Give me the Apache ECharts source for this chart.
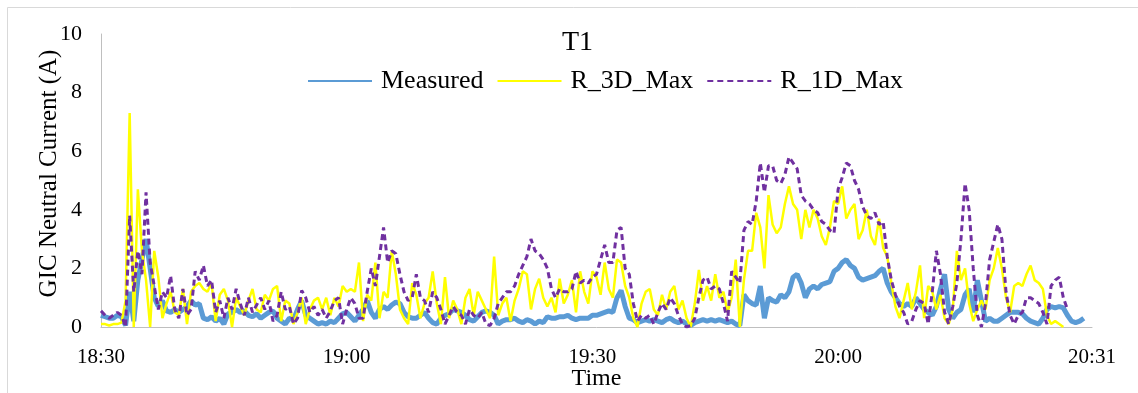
<!DOCTYPE html>
<html>
<head>
<meta charset="utf-8">
<script src="https://cdn.jsdelivr.net/npm/echarts@6/dist/echarts.min.js"></script>
<style>
  html, body { margin: 0; padding: 0; background: #ffffff; }
  #chart { width: 1138px; height: 393px; }
</style>
</head>
<body>
<div id="chart"></div>
<script>
// ---- data (sampled every 0.5 min starting 18:30) ----
const STEP_MIN = 0.5;
const xTickMinutes = [0, 30, 60, 90, 121];
const xTickLabels = ['18:30', '19:00', '19:30', '20:00', '20:31'];
const seriesNames = ['Measured', 'R_3D_Max', 'R_1D_Max'];

const measured = [
  0.40,0.35,0.30,0.30,0.40,0.35,0.05,1.20,0.20,1.60, // 0-4.5
  2.30,3.00,2.00,1.00,0.70,0.90,0.55,0.50,0.60,0.50, // 5
  0.60,0.70,0.90,0.75,0.80,0.30,0.25,0.35,0.20,0.30, // 10
  0.10,0.45,0.50,0.60,0.50,0.55,0.40,0.35,0.45,0.30, // 15
  0.40,0.50,0.55,0.30,0.20,0.10,0.30,0.25,0.60,0.90, // 20
  0.40,0.30,0.20,0.10,0.15,0.10,0.20,0.15,0.30,0.45, // 25
  0.50,0.35,0.20,0.40,0.60,0.90,0.50,0.30,0.60,0.70, // 30
  0.60,0.75,0.85,0.80,0.50,0.35,0.30,0.30,0.40,0.50, // 35
  0.30,0.15,0.10,0.30,0.40,0.45,0.60,0.55,0.50,0.40, // 40
  0.25,0.20,0.35,0.50,0.55,0.50,0.40,0.10,0.20,0.25, // 45
  0.25,0.30,0.20,0.15,0.25,0.20,0.10,0.20,0.15,0.35, // 50
  0.30,0.30,0.35,0.35,0.40,0.30,0.25,0.30,0.30,0.30, // 55
  0.40,0.40,0.45,0.50,0.55,0.50,1.00,1.25,0.70,0.30, // 60
  0.25,0.15,0.20,0.25,0.20,0.25,0.20,0.15,0.25,0.30, // 65
  0.20,0.15,0.20,0.10,0.05,0.15,0.20,0.25,0.20,0.25, // 70
  0.20,0.25,0.20,0.15,0.20,0.10,0.05,1.10,0.90,0.80, // 75
  0.75,1.40,0.30,1.00,0.90,0.85,1.10,1.00,1.20,1.70, // 80
  1.80,1.50,1.00,1.30,1.40,1.30,1.45,1.50,1.55,1.90, // 85
  2.00,2.20,2.30,2.10,2.00,1.70,1.60,1.65,1.70,1.75, // 90
  1.90,2.00,1.50,1.20,1.00,0.80,0.70,0.80,0.70,1.00, // 95
  0.80,0.60,0.50,0.40,0.70,1.30,1.80,0.60,0.30,0.50, // 100
  0.60,1.10,1.30,0.50,1.60,0.90,0.20,0.30,0.20,0.20, // 105
  0.30,0.40,0.50,0.50,0.50,0.45,0.30,0.20,0.15,0.10, // 110
  0.30,0.60,0.70,0.65,0.70,0.65,0.40,0.20,0.15,0.20, // 115
  0.30                                                // 120
];

const r3dMax = [
  0.10,0.10,0.05,0.10,0.10,0.15,0.90,7.30,0.00,4.70, // 0
  2.60,1.60,0.00,2.60,1.70,0.30,0.80,1.20,0.50,0.40, // 5
  1.30,0.10,1.20,1.40,1.50,1.30,1.20,1.50,0.20,1.10, // 10
  1.30,0.90,0.00,1.00,0.70,0.40,0.90,1.30,0.60,0.50, // 15
  1.10,0.90,1.30,1.40,0.20,0.90,0.80,0.10,0.50,1.00, // 20
  0.10,0.60,0.90,1.00,0.60,1.00,0.40,1.00,0.70,1.40, // 25
  1.20,1.30,1.20,2.20,0.20,1.10,0.90,2.20,0.30,1.20, // 30
  1.00,2.60,1.80,0.60,0.30,0.10,1.50,1.10,0.30,0.80, // 35
  1.00,1.90,0.80,0.10,1.70,0.30,0.90,0.60,0.10,1.00, // 40
  1.30,0.40,1.20,0.90,0.60,0.30,2.40,0.40,0.80,1.00, // 45
  0.20,0.90,1.30,1.90,1.80,0.60,1.30,1.65,1.00,0.70, // 50
  1.00,0.50,1.65,0.80,1.10,1.60,0.50,1.90,1.20,0.80, // 55
  1.90,1.70,1.10,2.20,1.30,1.00,2.30,2.20,1.40,1.00, // 60
  0.30,0.00,0.80,1.20,1.30,0.60,0.40,1.10,0.60,1.20, // 65
  1.40,0.60,0.90,0.30,0.00,0.80,1.95,0.90,1.40,0.90, // 70
  1.80,1.00,1.20,0.50,1.00,2.30,0.00,1.60,2.60,2.60, // 75
  3.90,3.40,2.00,4.50,3.50,3.20,3.40,4.20,4.80,4.20, // 80
  4.00,3.00,4.00,3.40,4.00,3.70,3.10,2.80,3.40,4.30, // 85
  4.20,4.80,3.70,4.00,4.20,3.00,3.30,4.00,3.10,2.80, // 90
  3.70,2.70,2.40,1.50,0.70,0.30,0.90,1.50,0.60,1.20, // 95
  2.10,0.30,1.40,1.20,0.60,1.10,0.30,0.10,0.60,2.60, // 100
  1.60,2.00,0.80,0.20,0.60,0.90,0.60,1.60,2.00,2.70, // 105
  2.00,1.00,0.50,1.40,1.50,1.40,1.80,2.10,1.60,1.50, // 110
  1.30,0.40,0.10,0.20,0.10,0.00                      // 115-117.5
];

const r1dMax = [
  0.55,0.40,0.30,0.40,0.50,0.40,0.00,3.80,1.20,2.60, // 0
  1.80,4.60,2.20,1.40,0.60,1.20,1.00,1.75,0.60,0.30, // 5
  1.30,0.40,0.60,1.90,1.60,2.10,1.40,1.60,0.50,0.90, // 10
  0.30,1.00,0.60,1.30,0.80,0.40,1.00,0.50,0.75,1.00, // 15
  0.60,0.90,0.20,0.40,1.20,0.60,0.70,0.10,0.30,1.25, // 20
  1.00,0.50,0.70,0.40,0.60,0.30,0.55,0.90,1.00,0.10, // 25
  0.60,1.00,0.80,0.30,0.30,1.20,2.00,1.40,2.40,3.40, // 30
  2.20,2.60,2.50,1.80,1.20,0.90,1.00,1.80,1.00,0.90, // 35
  0.50,1.20,1.00,0.60,0.10,0.40,0.70,0.50,0.40,0.10, // 40
  0.60,0.40,0.30,0.50,0.10,0.05,0.30,0.80,1.00,1.20, // 45
  1.20,1.40,1.80,2.10,2.40,3.00,2.60,2.50,2.30,2.00, // 50
  1.30,1.00,1.30,1.20,1.20,1.30,1.90,1.50,1.60,1.50, // 55
  1.70,1.80,2.30,2.80,2.20,2.20,3.30,3.40,2.00,1.80, // 60
  0.80,0.20,0.40,0.30,0.40,0.10,0.50,0.80,0.60,1.00, // 65
  0.80,0.40,0.10,0.00,0.05,0.30,1.00,1.60,1.70,1.30, // 70
  1.40,1.30,0.80,0.20,1.90,1.70,1.50,3.30,3.60,3.50, // 75
  4.30,5.60,4.60,5.50,5.50,5.00,4.90,5.20,5.80,5.60, // 80
  5.40,4.50,4.30,4.20,4.00,3.90,3.60,3.50,3.30,3.20, // 85
  4.70,5.10,5.60,5.50,5.00,4.70,4.10,3.80,3.70,3.90, // 90
  3.50,3.60,2.40,1.60,1.10,0.70,0.50,0.10,0.20,0.60, // 95
  0.90,0.80,0.10,1.20,2.60,1.80,0.50,0.10,0.70,1.50, // 100
  3.00,4.90,4.00,2.00,0.40,0.00,0.80,2.30,2.90,3.50, // 105
  3.00,1.20,0.40,0.10,0.40,0.50,1.00,1.00,0.90,0.80, // 110
  0.50,0.10,1.40,1.60,1.70,1.00,0.60                 // 115-118
];

// ---- chart ----
const FONT = "'Liberation Serif','Times New Roman',serif";
const toPairs = arr => arr.map((v, i) => [i * STEP_MIN, v]);

const chart = echarts.init(document.getElementById('chart'), null, { renderer: 'canvas' });
chart.setOption({
  animation: false,
  backgroundColor: '#ffffff',
  textStyle: { fontFamily: FONT, color: '#000' },
  graphic: [{
    type: 'rect', silent: true, z: -10,
    shape: { x: 7.5, y: 7.5, width: 1200, height: 500 },
    style: { fill: 'none', stroke: '#d9d9d9', lineWidth: 1 }
  }],
  title: {
    text: 'T1', left: 562, top: 29, padding: 0,
    textStyle: { fontFamily: FONT, fontSize: 28, fontWeight: 'normal', color: '#000' }
  },
  legend: {
    left: 307, top: 68, padding: 0,
    itemWidth: 64, itemHeight: 14, itemGap: 13,
    itemStyle: { opacity: 0 },
    data: seriesNames,
    textStyle: { fontFamily: FONT, fontSize: 26, color: '#000', padding: [0, 0, 0, 4] }
  },
  grid: { left: 101, right: 46, top: 34, bottom: 66, containLabel: false, outerBoundsMode: 'none' },
  xAxis: {
    type: 'value', min: 0, max: 121,
    axisLine: { show: true, lineStyle: { color: '#bfbfbf', width: 1 } },
    axisTick: { show: false },
    splitLine: { show: false },
    axisLabel: {
      customValues: xTickMinutes,
      formatter: v => { const k = xTickMinutes.indexOf(v); return k >= 0 ? xTickLabels[k] : ''; },
      fontFamily: FONT, fontSize: 21, color: '#000', margin: 20
    },
    name: 'Time', nameLocation: 'middle', nameGap: 40, nameMoveOverlap: false,
    nameTextStyle: { fontFamily: FONT, fontSize: 24, color: '#000' }
  },
  yAxis: {
    type: 'value', min: 0, max: 10, interval: 2,
    axisLine: { show: true, lineStyle: { color: '#bfbfbf', width: 1 } },
    axisTick: { show: false },
    splitLine: { show: false },
    axisLabel: { fontFamily: FONT, fontSize: 22, color: '#000', margin: 19 },
    name: 'GIC Neutral Current (A)', nameLocation: 'middle', nameGap: 39, nameMoveOverlap: false,
    nameTextStyle: { fontFamily: FONT, fontSize: 25, color: '#000', padding: [0, 0, 0, 14] }
  },
  series: [
    {
      name: seriesNames[0], type: 'line', data: toPairs(measured),
      symbol: 'none', showSymbol: false, z: 2,
      lineStyle: { color: '#5B9BD5', width: 5 }, itemStyle: { color: '#5B9BD5' }
    },
    {
      name: seriesNames[1], type: 'line', data: toPairs(r3dMax),
      symbol: 'none', showSymbol: false, z: 3,
      lineStyle: { color: '#FFFF00', width: 2.5 }, itemStyle: { color: '#FFFF00' }
    },
    {
      name: seriesNames[2], type: 'line', data: toPairs(r1dMax),
      symbol: 'none', showSymbol: false, z: 4,
      lineStyle: { color: '#7030A0', width: 3, type: [6, 4] }, itemStyle: { color: '#7030A0' }
    }
  ]
});
</script>
</body>
</html>
